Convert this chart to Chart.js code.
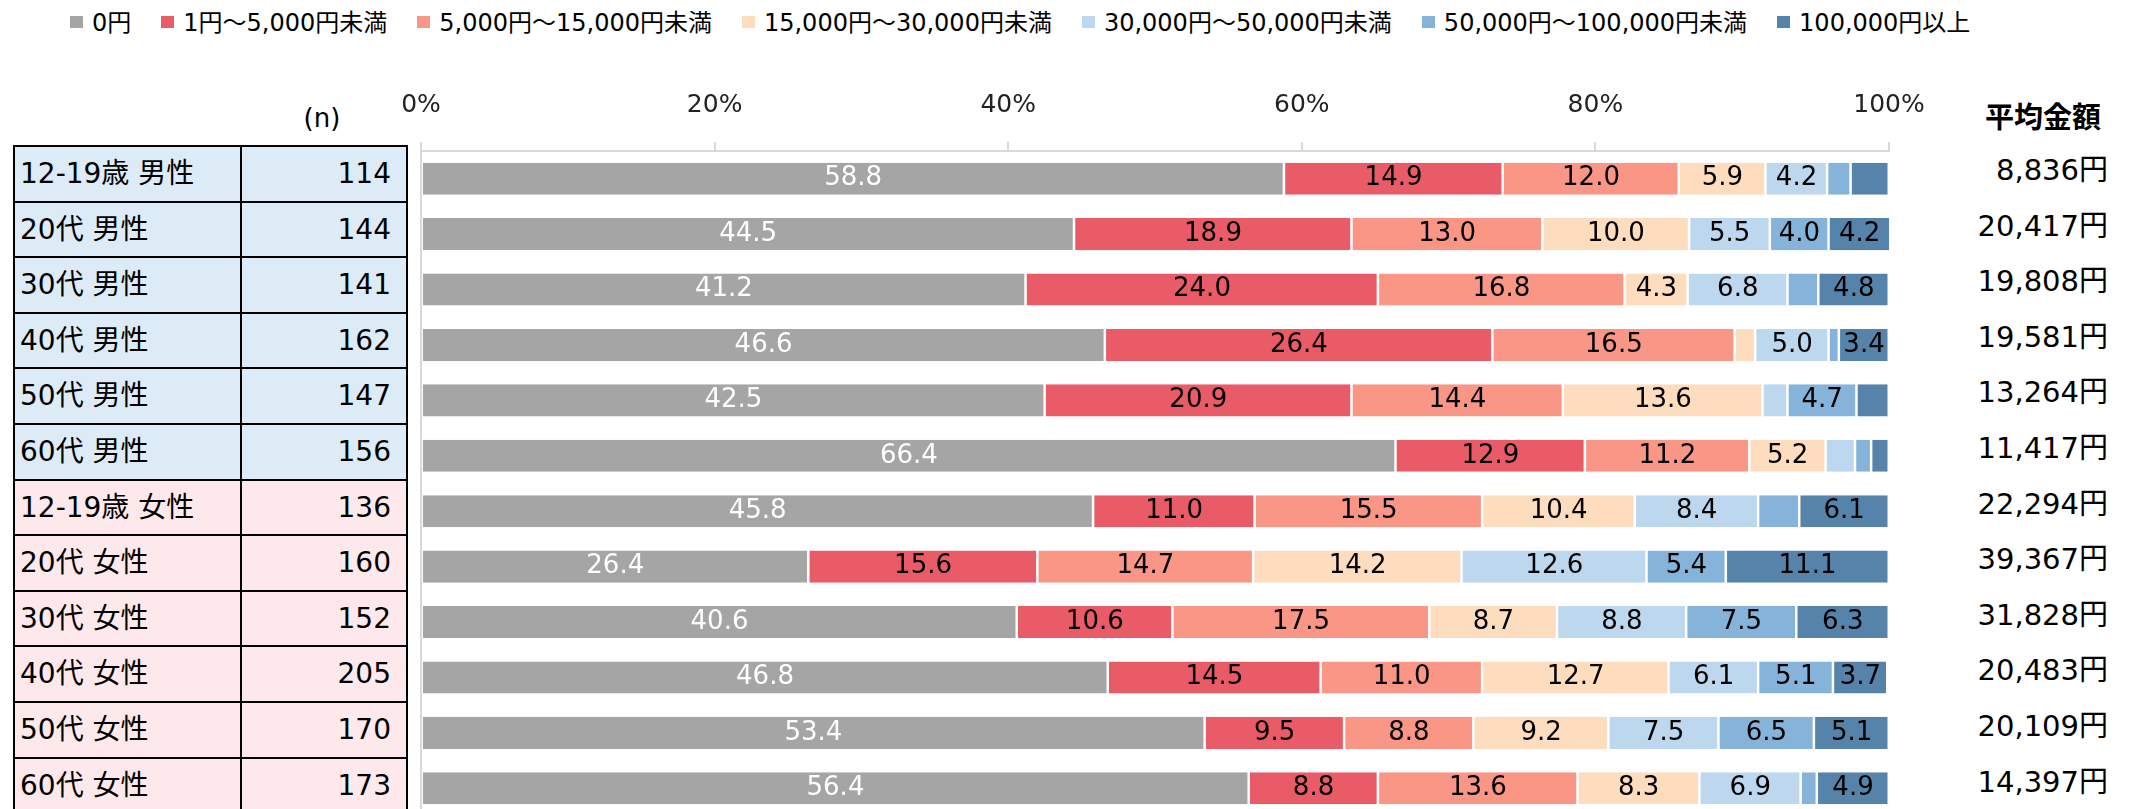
<!DOCTYPE html>
<html lang="ja">
<head>
<meta charset="UTF-8">
<title>金額分布</title>
<script src="https://cdn.jsdelivr.net/npm/chart.js"></script>
<style>
  html, body { margin: 0; padding: 0; width: 2129px; height: 809px; overflow: hidden; background: #fff; }
  body { position: relative; font-family: "DejaVu Sans", "Noto Sans CJK JP", sans-serif; color: #000; }
  #chart { position: absolute; left: 0; top: 0; }
  #legend { position: absolute; left: 70px; top: 4px; height: 32px; display: flex; align-items: center; font-size: 24px; white-space: nowrap; }
  #legend .item { display: flex; align-items: center; margin-right: 30px; }
  #legend .box { width: 13px; height: 12px; margin-right: 9px; margin-top: 4px; }
  #tbl { position: absolute; left: 13px; top: 145px; width: 395px; height: 671px; font-size: 28px; }
  #tbl .cell { position: absolute; box-sizing: border-box; height: 57.6px; border: 2px solid #000; line-height: 53.6px; white-space: nowrap; }
  #tbl .name { left: 0; width: 229px; padding-left: 5px; }
  #tbl .n { left: 227px; width: 168px; text-align: right; padding-right: 15px; }
  #tbl .m { background: #DDEBF7; }
  #tbl .f { background: #FDE9EB; }
  #nhead { position: absolute; left: 300px; top: 100px; width: 44px; text-align: center; font-size: 26px; line-height: 36px; }
  #avghead { position: absolute; left: 1963px; top: 96px; width: 160px; text-align: center; font-size: 29px; font-weight: bold; line-height: 38px; font-family: "Noto Sans CJK JP", sans-serif; }
  #avg { position: absolute; right: 21px; top: 143px; text-align: right; font-size: 29px; }
  #avg div { height: 55.6px; line-height: 55.6px; }
</style>
</head>
<body>
<div id="legend"></div>
<div id="nhead">(n)</div>
<div id="avghead">平均金額</div>
<div id="tbl"></div>
<div id="avg"></div>
<canvas id="chart" width="2129" height="816"></canvas>

<script>
  const categories = ['12-19歳 男性', '20代 男性', '30代 男性', '40代 男性', '50代 男性', '60代 男性',
                      '12-19歳 女性', '20代 女性', '30代 女性', '40代 女性', '50代 女性', '60代 女性'];
  const sampleSizes = [114, 144, 141, 162, 147, 156, 136, 160, 152, 205, 170, 173];
  const averages = ['8,836円', '20,417円', '19,808円', '19,581円', '13,264円', '11,417円',
                    '22,294円', '39,367円', '31,828円', '20,483円', '20,109円', '14,397円'];

  const seriesNames = ['0円', '1円～5,000円未満', '5,000円～15,000円未満', '15,000円～30,000円未満',
                       '30,000円～50,000円未満', '50,000円～100,000円未満', '100,000円以上'];
  const seriesColors = ['#A5A5A5', '#E95C67', '#FA9686', '#FEDCBE', '#BDD7EE', '#85B3DA', '#5683AA'];

  const zeroYen      = [58.8, 44.5, 41.2, 46.6, 42.5, 66.4, 45.8, 26.4, 40.6, 46.8, 53.4, 56.4];
  const under5k      = [14.9, 18.9, 24.0, 26.4, 20.9, 12.9, 11.0, 15.6, 10.6, 14.5, 9.5, 8.8];
  const under15k     = [12.0, 13.0, 16.8, 16.5, 14.4, 11.2, 15.5, 14.7, 17.5, 11.0, 8.8, 13.6];
  const under30k     = [5.9, 10.0, 4.3, 1.4, 13.6, 5.2, 10.4, 14.2, 8.7, 12.7, 9.2, 8.3];
  const under50k     = [4.2, 5.5, 6.8, 5.0, 1.7, 2.0, 8.4, 12.6, 8.8, 6.1, 7.5, 6.9];
  const under100k    = [1.6, 4.0, 2.1, 0.7, 4.7, 1.1, 2.8, 5.4, 7.5, 5.1, 6.5, 1.1];
  const over100k     = [2.6, 4.2, 4.8, 3.4, 2.2, 1.2, 6.1, 11.1, 6.3, 3.7, 5.1, 4.9];
  const seriesValues = [zeroYen, under5k, under15k, under30k, under50k, under100k, over100k];

  const xTicks = [0, 20, 40, 60, 80, 100];

  // legend
  const legend = document.getElementById('legend');
  seriesNames.forEach((name, i) => {
    const item = document.createElement('div');
    item.className = 'item';
    item.innerHTML = '<span class="box" style="background:' + seriesColors[i] + '"></span><span>' + name + '</span>';
    legend.appendChild(item);
  });

  // left table (n) and right column (average)
  const tbl = document.getElementById('tbl');
  const avg = document.getElementById('avg');
  const rowH = 55.6;
  categories.forEach((c, i) => {
    const g = c.includes('男性') ? 'm' : 'f';
    const name = document.createElement('div');
    name.className = 'cell name ' + g;
    name.style.top = (i * rowH) + 'px';
    name.textContent = c;
    tbl.appendChild(name);
    const n = document.createElement('div');
    n.className = 'cell n ' + g;
    n.style.top = (i * rowH) + 'px';
    n.textContent = sampleSizes[i];
    tbl.appendChild(n);
    const d = document.createElement('div');
    d.textContent = averages[i];
    avg.appendChild(d);
  });

  const barLabels = {
    id: 'barLabels',
    afterDatasetsDraw(chart) {
      const ctx = chart.ctx;
      ctx.save();
      ctx.font = '26px "DejaVu Sans", "Noto Sans CJK JP", sans-serif';
      ctx.textAlign = 'center';
      ctx.textBaseline = 'middle';
      chart.data.datasets.forEach((ds, i) => {
        const meta = chart.getDatasetMeta(i);
        meta.data.forEach((bar, j) => {
          const v = ds.data[j];
          if (v < 3) return;
          ctx.fillStyle = i === 0 ? '#fff' : '#000';
          ctx.fillText(v.toFixed(1), (bar.x + bar.base) / 2, bar.y);
        });
      });
      ctx.restore();
    }
  };

  Chart.defaults.font.family = '"DejaVu Sans", "Noto Sans CJK JP", sans-serif';

  new Chart(document.getElementById('chart').getContext('2d'), {
    type: 'bar',
    data: {
      labels: categories,
      datasets: seriesNames.map((name, i) => ({
        label: name,
        data: seriesValues[i],
        backgroundColor: seriesColors[i],
        borderColor: '#fff',
        borderWidth: { left: 1, right: 1.5, top: 0, bottom: 0 },
        borderSkipped: false,
        categoryPercentage: 1,
        barPercentage: 0.578
      }))
    },
    options: {
      indexAxis: 'y',
      responsive: false,
      animation: false,
      devicePixelRatio: 1,
      layout: { padding: { left: 0, right: 240, top: 0, bottom: 0 } },
      plugins: { legend: { display: false }, tooltip: { enabled: false } },
      scales: {
        x: {
          type: 'linear',
          position: 'top',
          stacked: true,
          min: 0,
          max: 100,
          afterBuildTicks: s => { s.ticks = xTicks.map(v => ({ value: v })); },
          afterFit: s => { s.height = 151; },
          ticks: { callback: v => v + '%', font: { size: 25 }, color: '#222', padding: 22, maxRotation: 0 },
          grid: { drawOnChartArea: false, drawTicks: true, tickLength: 9, color: '#D9D9D9', lineWidth: 2 },
          border: { display: true, color: '#D9D9D9', width: 2 }
        },
        y: {
          stacked: true,
          afterFit: s => { s.width = 421; },
          ticks: { display: false },
          grid: { display: false },
          border: { display: true, color: '#D9D9D9', width: 2 }
        }
      }
    },
    plugins: [barLabels]
  });
</script>
</body>
</html>
